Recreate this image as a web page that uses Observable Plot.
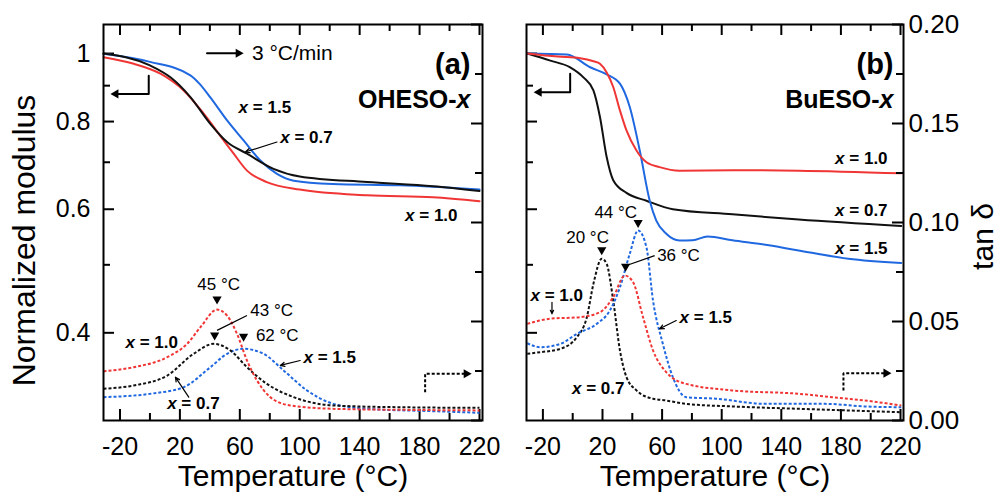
<!DOCTYPE html>
<html><head><meta charset="utf-8">
<script src="https://cdn.jsdelivr.net/npm/d3@7"></script>
<script src="https://cdn.jsdelivr.net/npm/@observablehq/plot@0.6"></script>
<style>
body{margin:0;background:#fff}
#wrap{position:relative;width:998px;height:498px;overflow:hidden;background:#fff}
#wrap svg{position:absolute;left:0;top:0}
</style></head><body><div id="wrap"></div>
<script>
// ---- axis ticks ----
const xMajor = [-20, 20, 60, 100, 140, 180, 220];
const xMinor = [0, 40, 80, 120, 160, 200];
const modMajor = [1, 0.8, 0.6, 0.4];
const modMinor = [0.9, 0.7, 0.5];
const tanMajor = [0, 0.05, 0.10, 0.15, 0.20];
const tanMinor = [0.025, 0.075, 0.125, 0.175];

// ---- Panel (a) OHESO-x : normalized modulus (solid) ----
const aMod15T = [-31, 0, 27, 33, 40.3, 51.5, 62.5, 73.7, 84.8, 96, 122, 167, 220];
const aMod15  = [0.999, 0.973, 0.931, 0.906, 0.866, 0.803, 0.752, 0.704, 0.674, 0.659, 0.652, 0.649, 0.640];
const aMod07T = [-31, 0, 13.7, 27, 40.3, 51.5, 64.8, 82.5, 100, 145, 189, 220];
const aMod07  = [1.0, 0.962, 0.925, 0.867, 0.794, 0.748, 0.720, 0.685, 0.668, 0.656, 0.647, 0.637];
const aMod10T = [-31, -10.8, 7, 22.5, 35.9, 49.2, 55.9, 64.8, 78, 100, 145, 189, 220];
const aMod10  = [0.988, 0.967, 0.936, 0.886, 0.821, 0.752, 0.720, 0.681, 0.656, 0.640, 0.628, 0.624, 0.616];
// ---- Panel (a) tan delta (dotted) ----
const aTan10T = [-31, -10.8, 11.5, 24.8, 33.7, 44.8, 51.5, 58.1, 64.8, 71.5, 80.3, 93.7, 122.5, 167, 220];
const aTan10  = [0.0249, 0.0269, 0.032, 0.0387, 0.0471, 0.056, 0.053, 0.0438, 0.0303, 0.0202, 0.0118, 0.0076, 0.0059, 0.0054, 0.0051];
const aTan07T = [-31, -10.8, 11.5, 29.2, 42.5, 53.7, 64.8, 78.1, 95.9, 122.5, 167, 220];
const aTan07  = [0.016, 0.0177, 0.0227, 0.0337, 0.0387, 0.0354, 0.0269, 0.0185, 0.0118, 0.0076, 0.0067, 0.0064];
const aTan15T = [-31, 0.3, 22.5, 40.3, 51.5, 62.5, 75.8, 89.2, 104.8, 122.5, 144.8, 189, 220];
const aTan15  = [0.0118, 0.0135, 0.0168, 0.0269, 0.0337, 0.0362, 0.0337, 0.0253, 0.0152, 0.0084, 0.0059, 0.0047, 0.0039];

// ---- Panel (b) BuESO-x : normalized modulus (solid) ----
const bMod07T = [-30.5, -15, -1.7, 7.2, 13.9, 18.3, 22.8, 27.2, 36.1, 49.5, 67.2, 107.2, 151.7, 220.5];
const bMod07  = [1.0, 0.977, 0.956, 0.925, 0.886, 0.812, 0.712, 0.660, 0.633, 0.617, 0.600, 0.590, 0.580, 0.568];
const bMod10T = [-30.5, -10, 5, 14, 18.3, 22.8, 27.2, 31.7, 36.1, 42.8, 49.5, 58.3, 71.7, 107.2, 151.7, 220.5];
const bMod10  = [1.0, 0.99, 0.985, 0.975, 0.967, 0.940, 0.896, 0.830, 0.777, 0.7275, 0.700, 0.689, 0.681, 0.682, 0.681, 0.675];
const bMod15T = [-30.5, -3.9, 11.7, 22.8, 31.7, 38.3, 45, 51.7, 56.1, 62.8, 71.7, 80.5, 90.5, 107.2, 129.4, 160.5, 185, 220.5];
const bMod15  = [1.0, 0.997, 0.956, 0.934, 0.906, 0.839, 0.7275, 0.617, 0.578, 0.5535, 0.5416, 0.542, 0.5487, 0.542, 0.534, 0.520, 0.510, 0.503];
// ---- Panel (b) tan delta (dotted) ----
const bTan07T = [-30.5, -21.7, -8.3, 2.8, 9.5, 13.9, 19.5, 22.8, 27.2, 31.7, 36.1, 42.8, 53.9, 62.8, 76.1, 107.2, 151.7, 220.5];
const bTan07  = [0.0337, 0.0345, 0.0362, 0.0421, 0.0522, 0.069, 0.0817, 0.0791, 0.0606, 0.0354, 0.0219, 0.0152, 0.011, 0.0101, 0.0084, 0.0071, 0.0059, 0.0042];
const bTan10T = [-30.5, -15, 5, 18.3, 27.2, 35, 40.5, 47.2, 53.9, 62.8, 76.1, 107.2, 151.7, 174, 196, 220.5];
const bTan10  = [0.0488, 0.0514, 0.0522, 0.0547, 0.0623, 0.0732, 0.0699, 0.0522, 0.0354, 0.0244, 0.0185, 0.0152, 0.0135, 0.0118, 0.0101, 0.0076];
const bTan15T = [-30.5, -21.7, -8.3, 2.8, 16.1, 25, 31.7, 38.3, 43.9, 49.5, 53.9, 60.5, 67.2, 76.1, 96.1, 129.4, 169.5, 196, 220.5];
const bTan15  = [0.039, 0.037, 0.0387, 0.0438, 0.0488, 0.0556, 0.0673, 0.0842, 0.096, 0.0875, 0.0606, 0.0387, 0.0219, 0.0118, 0.011, 0.0084, 0.0084, 0.0071, 0.0067];

// ---- annotations (data coordinates) ----
const aModLabels = [{T: 59.2, v: 0.839, s: "x = 1.5"}, {T: 87, v: 0.760, s: "x = 0.7"}, {T: 170.3, v: 0.588, s: "x = 1.0"}];
const aModArrows = [{T1: 84.8, v1: 0.748, T2: 63.7, v2: 0.724}];
const aModElbow = [{T: -0.8, v: 0.930}, {T: -0.8, v: 0.876}, {T: -23.7, v: 0.876}];
const rateLine = [{T: 38.1, v: 1.001}, {T: 59.9, v: 1.001}];
const rateText = [{T: 68.1, v: 1.001, s: "3 °C/min"}];
const aTanLabels = [{T: -16.3, v: 0.0395, s: "x = 1.0"}, {T: 102.5, v: 0.032, s: "x = 1.5"}, {T: 11.5, v: 0.0084, s: "x = 0.7"}];
const aPeakText = [{T: 45.9, v: 0.0685, s: "45 °C"}, {T: 81.3, v: 0.0556, s: "43 °C"}, {T: 85, v: 0.0427, s: "62 °C"}];
const aPeakTri = [{T: 44.8, v: 0.0606}, {T: 43.2, v: 0.0424}, {T: 62.5, v: 0.0418}];
const aTanLinks = [{T1: 64.8, v1: 0.053, T2: 44.8, v2: 0.0455}];
const aTanArrows = [{T1: 100.3, v1: 0.0303, T2: 87, v2: 0.0278}, {T1: 25.9, v1: 0.0118, T2: 17, v2: 0.0219}];
const aTanElbow = [{T: 183.7, v: 0.0143}, {T: 183.7, v: 0.0236}, {T: 212.1, v: 0.0236}];

const bModLabels = [{T: 176.1, v: 0.708, s: "x = 1.0"}, {T: 176.1, v: 0.5975, s: "x = 0.7"}, {T: 176.1, v: 0.527, s: "x = 1.5"}];
const bModElbow = [{T: -1.7, v: 0.936}, {T: -1.7, v: 0.881}, {T: -23.5, v: 0.881}];
const bTanLabels = [{T: -28.3, v: 0.0631, s: "x = 1.0"}, {T: 71.7, v: 0.0522, s: "x = 1.5"}, {T: -0.5, v: 0.016, s: "x = 0.7"}];
const bPeakText = [{T: 28.9, v: 0.1052, s: "44 °C"}, {T: 10, v: 0.0926, s: "20 °C"}, {T: 71, v: 0.0833, s: "36 °C"}];
const bPeakTri = [{T: 43.9, v: 0.0993}, {T: 19.5, v: 0.0855}, {T: 35.5, v: 0.0771}];
const bTanLinks = [{T1: 55, v1: 0.0833, T2: 36.1, v2: 0.0783}];
const bTanArrows = [{T1: 69.5, v1: 0.0505, T2: 58.3, v2: 0.0463}, {T1: -13.9, v1: 0.0597, T2: -13.9, v2: 0.0539}];
const bTanElbow = [{T: 181.7, v: 0.0152}, {T: 181.7, v: 0.0239}, {T: 211.2, v: 0.0239}];

// ---- styling ----
const RED = "#f03535", BLUE = "#1f68e0", BLACK = "#111111";
const FONT = "'Liberation Sans', Arial, Helvetica, sans-serif";
const FH = 396;
const DASH = {strokeDasharray: "3 2", strokeLinecap: "butt", strokeLinejoin: "miter"};

function triSym(dir) {
  return {draw(ctx, size) {
    const a = Math.sqrt(size / Math.PI), w = 1.15 * a, h = 2 * a;
    if (dir === "down") { ctx.moveTo(-w, -h/2); ctx.lineTo(w, -h/2); ctx.lineTo(0, h/2); }
    else if (dir === "right") { ctx.moveTo(-h/2, -w); ctx.lineTo(-h/2, w); ctx.lineTo(h/2, 0); }
    else { ctx.moveTo(h/2, -w); ctx.lineTo(h/2, w); ctx.lineTo(-h/2, 0); }
    ctx.closePath();
  }};
}
const solid = (T, V, c) => Plot.line(V, {x: T, y: V, stroke: c, strokeWidth: 2, curve: "monotone-x"});
const dotted = (T, V, c) => Plot.line(V, {x: T, y: V, stroke: c, strokeWidth: 2, curve: "monotone-x", ...DASH});
const xLabels = rows => Plot.text(rows, {x: "T", y: "v", text: "s", textAnchor: "start", fontWeight: "bold", fontSize: 17});
const peakText = rows => Plot.text(rows, {x: "T", y: "v", text: "s", fontSize: 17});
const tris = (rows, dir) => Plot.dot(rows, {x: "T", y: "v", symbol: triSym(dir), r: 4, fill: "black", stroke: "none"});
const arrows = rows => Plot.arrow(rows, {x1: "T1", y1: "v1", x2: "T2", y2: "v2", strokeWidth: 1.2, headLength: 6, headAngle: 50});
const links = rows => Plot.link(rows, {x1: "T1", y1: "v1", x2: "T2", y2: "v2", strokeWidth: 1.2});

function xTicks() {
  return [
    Plot.ruleX(xMajor, {insetTop: FH - 11, strokeWidth: 2}),
    Plot.ruleX(xMinor, {insetTop: FH - 7, strokeWidth: 2}),
    Plot.ruleX(xMajor, {insetBottom: FH - 11, strokeWidth: 2}),
    Plot.ruleX(xMinor, {insetBottom: FH - 7, strokeWidth: 2})
  ];
}
function layer(left, right, y, marks) {
  return Plot.plot({
    width: 998, height: 498,
    marginTop: 24, marginBottom: 78, marginLeft: left, marginRight: right,
    x: {domain: [-31, 222], axis: null},
    y: {...y, axis: null},
    style: {background: "transparent", fontFamily: FONT, overflow: "visible"},
    marks
  });
}
const modY = {type: "log", domain: [0.3, 1.1]};
const tanY = {type: "linear", domain: [0, 0.2]};

const panels = [
  {left: 103, right: 516, fw: 379, tag: "(a)", name: "OHESO-x", dxTag: -12,
   mod: [solid(aMod15T, aMod15, BLUE), solid(aMod10T, aMod10, RED), solid(aMod07T, aMod07, BLACK)],
   tan: [dotted(aTan15T, aTan15, BLUE), dotted(aTan07T, aTan07, BLACK), dotted(aTan10T, aTan10, RED)],
   modAnn: [xLabels(aModLabels), arrows(aModArrows),
            Plot.line(aModElbow, {x: "T", y: "v", strokeWidth: 2}), tris([aModElbow[2]], "left"),
            Plot.line(rateLine, {x: "T", y: "v", strokeWidth: 2}), tris([rateLine[1]], "right"),
            Plot.text(rateText, {x: "T", y: "v", text: "s", textAnchor: "start", fontSize: 21}),
            Plot.axisY({ticks: modMajor, tickSize: 0, tickPadding: 13, tickFormat: d => String(d), fontSize: 25, label: null}),
            Plot.text(["Normalized modulus"], {frameAnchor: "left", textAnchor: "middle", dx: -79, dy: 18, rotate: -90, fontSize: 32})],
   tanAnn: [xLabels(aTanLabels), peakText(aPeakText), tris(aPeakTri, "down"), links(aTanLinks), arrows(aTanArrows),
            Plot.line(aTanElbow, {x: "T", y: "v", strokeWidth: 2, ...DASH}), tris([aTanElbow[2]], "right")]},
  {left: 526, right: 95, fw: 377, tag: "(b)", name: "BuESO-x", dxTag: -10,
   mod: [solid(bMod07T, bMod07, BLACK), solid(bMod15T, bMod15, BLUE), solid(bMod10T, bMod10, RED)],
   tan: [dotted(bTan07T, bTan07, BLACK), dotted(bTan15T, bTan15, BLUE), dotted(bTan10T, bTan10, RED)],
   modAnn: [xLabels(bModLabels),
            Plot.line(bModElbow, {x: "T", y: "v", strokeWidth: 2}), tris([bModElbow[2]], "left")],
   tanAnn: [xLabels(bTanLabels), peakText(bPeakText), tris(bPeakTri, "down"), links(bTanLinks), arrows(bTanArrows),
            Plot.line(bTanElbow, {x: "T", y: "v", strokeWidth: 2, ...DASH}), tris([bTanElbow[2]], "right"),
            Plot.axisY({anchor: "right", ticks: tanMajor, tickSize: 0, tickPadding: 5, tickFormat: d3.format(".2f"), fontSize: 26, label: null}),
            Plot.text(["tan δ"], {frameAnchor: "right", textAnchor: "middle", dx: 80, dy: 14, rotate: -90, fontSize: 30})]}
];

const wrap = document.getElementById("wrap");
const NS = "http://www.w3.org/2000/svg";
function italicize(svg) {
  svg.querySelectorAll("text").forEach(el => {
    if (el.querySelector("tspan")) return;
    const t = el.textContent;
    let m = t.match(/^x( = .*)$/), pre = "", post = "";
    if (m) post = m[1];
    else if ((m = t.match(/^(.+-)x$/))) pre = m[1];
    else return;
    el.textContent = "";
    if (pre) el.appendChild(document.createTextNode(pre));
    const ts = document.createElementNS(NS, "tspan");
    ts.setAttribute("font-style", "italic");
    ts.textContent = "x";
    el.appendChild(ts);
    if (post) el.appendChild(document.createTextNode(post));
  });
}
for (const p of panels) {
  const modLayer = layer(p.left, p.right, modY, [
    Plot.ruleY(modMajor, {insetRight: p.fw - 11, strokeWidth: 2}),
    Plot.ruleY(modMinor, {insetRight: p.fw - 7, strokeWidth: 2}),
    ...p.mod, ...p.modAnn
  ]);
  const tanLayer = layer(p.left, p.right, tanY, [
    Plot.ruleY(tanMajor, {insetLeft: p.fw - 11, strokeWidth: 2}),
    Plot.ruleY(tanMinor, {insetLeft: p.fw - 7, strokeWidth: 2}),
    ...xTicks(),
    ...p.tan, ...p.tanAnn,
    Plot.axisX({ticks: xMajor, tickSize: 0, tickPadding: 17, tickFormat: d => String(d), fontSize: 25, label: null}),
    Plot.text(["Temperature (°C)"], {frameAnchor: "bottom", dy: 65, fontSize: 30}),
    Plot.text([p.tag], {frameAnchor: "top-right", dx: p.dxTag, dy: 29, textAnchor: "end", fontWeight: "bold", fontSize: 29}),
    Plot.text([p.name], {frameAnchor: "top-right", dx: p.dxTag, dy: 66, textAnchor: "end", fontWeight: "bold", fontSize: 25}),
    Plot.frame({stroke: "black", strokeWidth: 2})
  ]);
  italicize(modLayer); italicize(tanLayer);
  wrap.appendChild(modLayer); wrap.appendChild(tanLayer);
}
</script>
</body></html>
